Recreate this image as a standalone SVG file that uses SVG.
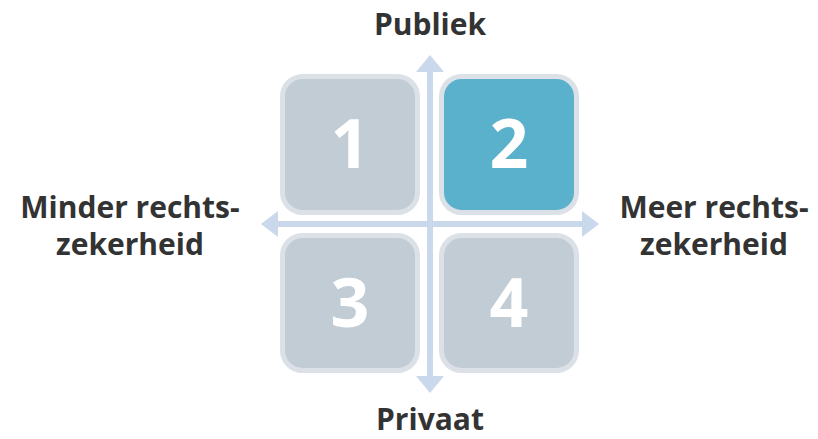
<svg xmlns="http://www.w3.org/2000/svg" width="818" height="439" viewBox="0 0 818 439">
<style>
.box{stroke:#dce1e8;stroke-width:5}
.g{fill:#c1ccd5}
.b{fill:#5ab1cc}
.num{font-family:"Open Sans","Noto Sans",sans-serif;font-weight:bold;font-size:68px;fill:#ffffff;text-anchor:middle}
.lbl{font-family:"Open Sans","Noto Sans",sans-serif;font-weight:bold;font-size:30px;fill:#333333;text-anchor:middle}
.ax{stroke:#c9d8eb;stroke-width:6;fill:none}
.ah{fill:#c9d8eb}
</style>
<rect width="818" height="439" fill="#ffffff"/>
<g id="connectors">
<line class="ax" x1="430" y1="70" x2="430" y2="378"/>
<polygon class="ah" points="430,55 444,72 416,72"/>
<polygon class="ah" points="430,393 444,376 416,376"/>
<line class="ax" x1="276" y1="224" x2="584" y2="224"/>
<polygon class="ah" points="261,224 278,211 278,237"/>
<polygon class="ah" points="599,224 582,211 582,237"/>
</g>
<g id="node1">
<rect class="box g" x="282.5" y="76.5" width="135" height="136" rx="20"/>
<text class="num" x="350" y="168">1</text>
</g>
<g id="node2">
<rect class="box b" x="441.5" y="76.5" width="135" height="136" rx="20"/>
<text class="num" x="509" y="168">2</text>
</g>
<g id="node3">
<rect class="box g" x="282.5" y="235.5" width="135" height="135" rx="20"/>
<text class="num" x="350" y="327">3</text>
</g>
<g id="node4">
<rect class="box g" x="441.5" y="235.5" width="135" height="135" rx="20"/>
<text class="num" x="509" y="327">4</text>
</g>
<g id="labels">
<text class="lbl" x="430" y="35">Publiek</text>
<text class="lbl" x="430" y="430">Privaat</text>
<text class="lbl" x="130" y="218">Minder rechts-</text>
<text class="lbl" x="130" y="255">zekerheid</text>
<text class="lbl" x="714" y="218">Meer rechts-</text>
<text class="lbl" x="714" y="255">zekerheid</text>
</g>
</svg>
